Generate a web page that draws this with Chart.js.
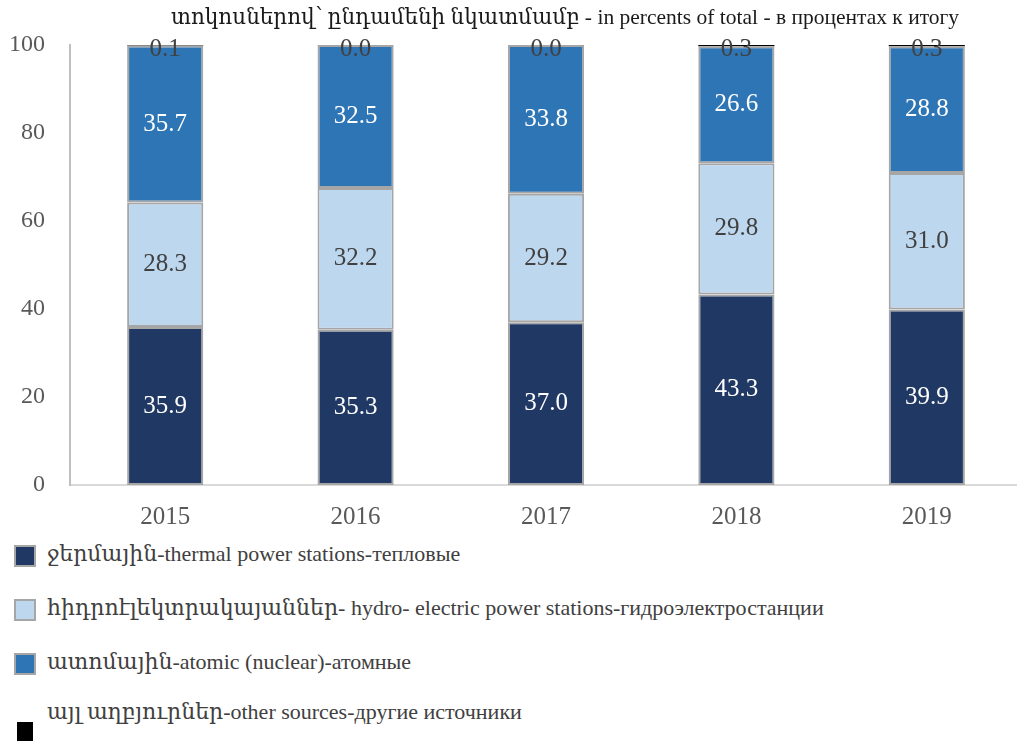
<!DOCTYPE html>
<html>
<head>
<meta charset="utf-8">
<script src="https://cdn.jsdelivr.net/npm/chart.js@4"></script>
<style>
	html, body { margin: 0; padding: 0; background: #fff; overflow: hidden; }
	body { width: 1017px; height: 742px; position: relative; font-family: "Liberation Serif", "DejaVu Serif", serif; }
	#wrap { position: absolute; left: 0; top: 0; width: 1030px; height: 535px; }
	#title { position: absolute; left: 120px; width: 890px; top: 4px; text-align: center; font-size: 21.5px; color: #1a1a1a; }
	#legend { position: absolute; left: 14px; top: 540px; font-size: 22px; color: #404040; }
	.item { position: relative; height: 54px; }
	.box { position: absolute; left: 0; top: 5px; width: 18px; height: 18px; border: 2px solid #a6a6a6; }
	.txt { position: absolute; left: 33px; top: 1px; white-space: nowrap; }
</style>
</head>
<body>
<div id="wrap"><canvas id="chart" width="1030" height="535"></canvas></div>
<div id="title">տոկոսներով՝ ընդամենի նկատմամբ - in percents of total - в процентах к итогу</div>
<div id="legend"></div>
<script>
	'use strict';

	const years = ['2015', '2016', '2017', '2018', '2019'];
	const thermal = [35.9, 35.3, 37.0, 43.3, 39.9];
	const hydro = [28.3, 32.2, 29.2, 29.8, 31.0];
	const atomic = [35.7, 32.5, 33.8, 26.6, 28.8];
	const other = [0.1, 0.0, 0.0, 0.3, 0.3];
	const yTicks = [0, 20, 40, 60, 80, 100];

	const seriesNames = [
		'ջերմային-thermal power stations-тепловые',
		'հիդրոէլեկտրակայաններ- hydro- electric power stations-гидроэлектростанции',
		'ատոմային-atomic (nuclear)-атомные',
		'այլ աղբյուրներ-other sources-другие источники'
	];
	const seriesColors = ['#203864', '#bdd7ee', '#2e75b6', '#000000'];

	const serif = '"Liberation Serif", "DejaVu Serif", serif';

	// Draw values inside each segment, "other" on top of the stack
	const valueLabels = {
		id: 'valueLabels',
		afterDatasetsDraw: function(chart) {
			const ctx = chart.ctx;
			ctx.save();
			ctx.font = '25px ' + serif;
			ctx.textAlign = 'center';
			ctx.textBaseline = 'middle';
			chart.data.datasets.forEach(function(ds, i) {
				const meta = chart.getDatasetMeta(i);
				meta.data.forEach(function(bar, j) {
					const text = ds.data[j].toFixed(1);
					if (i === 3) {
						ctx.fillStyle = '#404040';
						ctx.fillText(text, bar.x, bar.y + 4);
					} else {
						ctx.fillStyle = i === 1 ? '#404040' : '#ffffff';
						ctx.fillText(text, bar.x, (bar.y + bar.base) / 2);
					}
				});
			});
			ctx.restore();
		}
	};

	function makeSet(label, data, color, border) {
		return {
			label: label,
			data: data,
			backgroundColor: color,
			borderColor: border,
			borderWidth: border ? 2 : 0,
			borderSkipped: false,
			barPercentage: 0.8,
			categoryPercentage: 0.5
		};
	}

	new Chart(document.getElementById('chart').getContext('2d'), {
		type: 'bar',
		data: {
			labels: years,
			datasets: [
				makeSet(seriesNames[0], thermal, seriesColors[0], '#a6a6a6'),
				makeSet(seriesNames[1], hydro, seriesColors[1], '#a6a6a6'),
				makeSet(seriesNames[2], atomic, seriesColors[2], '#a6a6a6'),
				makeSet(seriesNames[3], other, seriesColors[3], null)
			]
		},
		options: {
			responsive: false,
			animation: false,
			layout: { padding: { top: 45, left: 8, right: 8, bottom: 6 } },
			plugins: {
				legend: { display: false },
				tooltip: { enabled: false }
			},
			scales: {
				x: {
					stacked: true,
					grid: { display: false, drawTicks: false },
					border: { display: true, color: '#d9d9d9', width: 2 },
					ticks: { color: '#595959', padding: 17, font: { family: serif, size: 25 } },
					afterFit: function(axis) { axis.height = 44; }
				},
				y: {
					stacked: true,
					min: 0,
					max: 100,
					afterBuildTicks: function(axis) {
						axis.ticks = yTicks.map(function(v) { return { value: v }; });
					},
					grid: { display: false, drawTicks: false },
					border: { display: true, color: '#bfbfbf', width: 2 },
					ticks: { color: '#595959', padding: 25, font: { family: serif, size: 24 } },
					afterFit: function(axis) { axis.width = 62; }
				}
			}
		},
		plugins: [valueLabels]
	});

	// Vertical legend below the chart
	const legend = document.getElementById('legend');
	seriesNames.forEach(function(name, i) {
		const item = document.createElement('div');
		item.className = 'item';
		const box = document.createElement('div');
		box.className = 'box';
		box.style.background = seriesColors[i];
		if (i === 3) {
			box.style.border = 'none';
			box.style.width = '16px';
			box.style.height = '19px';
			box.style.left = '3px';
			box.style.top = '20px';
		}
		const txt = document.createElement('div');
		txt.className = 'txt';
		txt.textContent = name;
		if (i === 3) txt.style.top = '-3px';
		item.appendChild(box);
		item.appendChild(txt);
		legend.appendChild(item);
	});
</script>
</body>
</html>
